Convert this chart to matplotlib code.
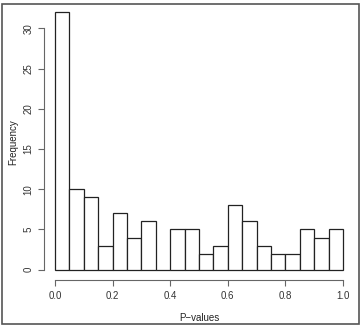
import numpy as np
import matplotlib
matplotlib.use("Agg")
import matplotlib.pyplot as plt
from matplotlib.patches import Rectangle

# histogram of p-values, 20 bins of width 0.05
bin_left = np.arange(0.0, 1.0, 0.05)
counts = [32, 10, 9, 3, 7, 4, 6, 0, 5, 5, 2, 3, 8, 6, 3, 2, 2, 5, 4, 5]
x_ticks = [0.0, 0.2, 0.4, 0.6, 0.8, 1.0]
y_ticks = [0, 5, 10, 15, 20, 25, 30]

plt.rcParams["font.family"] = ["Liberation Sans", "DejaVu Sans"]

fig = plt.figure(figsize=(3.61, 3.27), dpi=100)
fig.patch.set_facecolor("white")
ax = fig.add_axes([43.5 / 361, 47 / 327, 311 / 361, 278 / 327])

ax.bar(bin_left, counts, width=0.05, align="edge",
       facecolor="white", edgecolor="#222222", linewidth=0.9)

ax.set_xlim(-0.04, 1.04)
ax.set_ylim(-1.28, 33.28)

for side in ["top", "right"]:
    ax.spines[side].set_visible(False)
ax.spines["left"].set_bounds(0, 30)
ax.spines["bottom"].set_bounds(0, 1)
for side in ["left", "bottom"]:
    ax.spines[side].set_color("#666666")
    ax.spines[side].set_linewidth(0.8)

ax.set_xticks(x_ticks)
ax.set_xticklabels([f"{v:.1f}" for v in x_ticks])
ax.set_yticks(y_ticks)
ax.set_yticklabels([str(v) for v in y_ticks], rotation=90, va="center")
ax.tick_params(direction="out", length=4, width=0.8, color="#666666",
               labelsize=7, labelcolor="#333333")
ax.tick_params(axis="y", pad=3)
ax.tick_params(axis="x", pad=4)

fig.text(199 / 361, 1 - 318 / 327, "P\u2212values", fontsize=7,
         color="#222222", ha="center", va="center")
fig.text(13 / 361, 1 - 142 / 327, "Frequency", fontsize=7, rotation=90,
         color="#222222", ha="center", va="center")

# grey frame around the whole picture
fig.patches.append(Rectangle((1.5 / 361, 3.5 / 327), 357 / 361, 320 / 327,
                             transform=fig.transFigure, fill=False,
                             edgecolor="#555555", linewidth=1.2))

fig.savefig("out.png", dpi=100)
